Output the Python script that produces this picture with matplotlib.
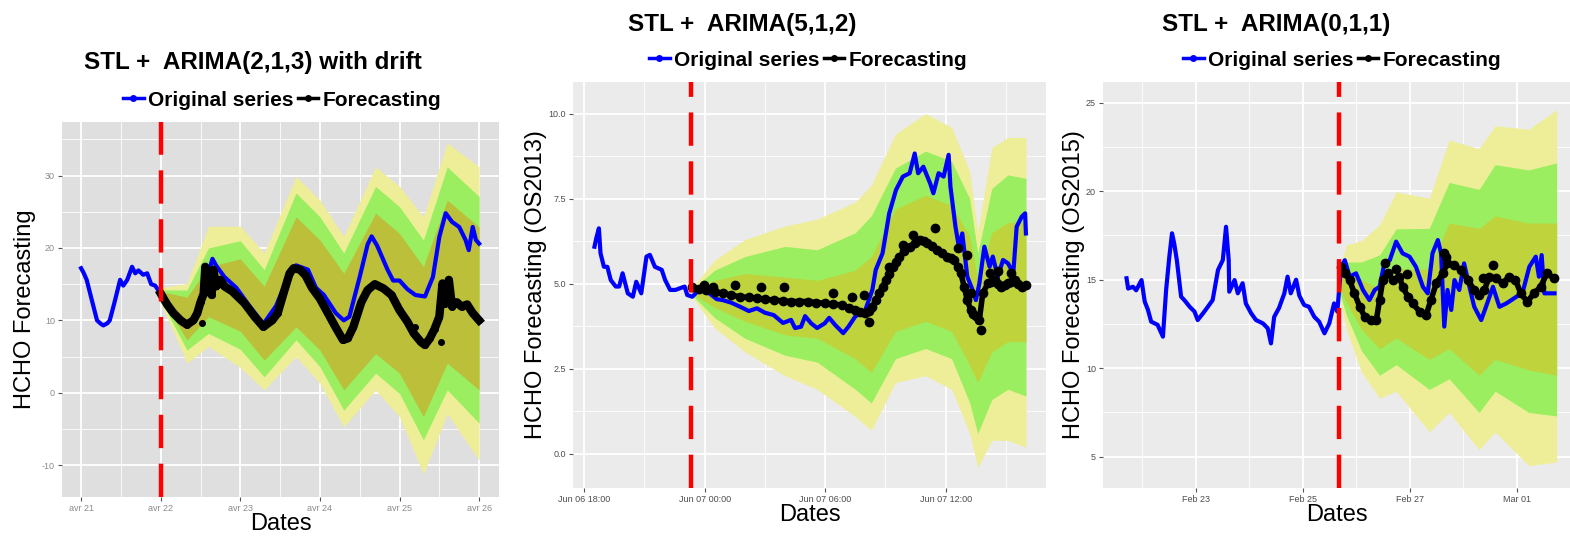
import matplotlib
matplotlib.use("Agg")
import matplotlib.pyplot as plt
from matplotlib.lines import Line2D

plt.rcParams['font.family'] = ['Liberation Sans', 'DejaVu Sans']

# ---------------- panel 1 : avr 21 .. avr 26 (x = days from avr 21)
p1_tick_labels = ["avr 21", "avr 22", "avr 23", "avr 24", "avr 25", "avr 26"]
p1_orig_x = [0, 0.03, 0.07, 0.13, 0.2, 0.25, 0.28, 0.33, 0.36, 0.42, 0.49, 0.53, 0.58, 0.64, 0.68,
             0.72, 0.78, 0.83, 0.88, 0.93, 1.0, 1.1, 1.25, 1.35, 1.45, 1.55, 1.65, 1.7, 1.8, 1.95,
             2.1, 2.29, 2.45, 2.6, 2.7, 2.85, 2.95, 3.05, 3.2, 3.3, 3.37, 3.5, 3.6, 3.65, 3.72,
             3.85, 3.92, 4.0, 4.1, 4.2, 4.32, 4.42, 4.5, 4.58, 4.66, 4.75, 4.83, 4.87, 4.92, 4.96, 5.0]
p1_orig_y = [17.2, 16.6, 15.6, 13.0, 10.0, 9.5, 9.3, 9.6, 10.0, 12.5, 15.6, 14.8, 15.6, 17.4, 16.5,
             16.9, 16.3, 16.5, 15.0, 14.8, 13.7, 12.0, 10.2, 9.5, 11.0, 14.5, 18.5, 17.5, 16.0, 14.5,
             12.2, 9.5, 12.0, 16.0, 17.6, 17.0, 14.5, 13.5, 11.0, 10.0, 10.5, 16.0, 20.5, 21.6, 20.3,
             17.0, 15.5, 15.5, 14.3, 13.5, 13.3, 16.0, 21.5, 24.8, 23.6, 22.9, 21.1, 19.7, 22.9, 21.1, 20.6]
p1_fc_x = [1.0, 1.08, 1.16, 1.25, 1.33, 1.41, 1.46, 1.5, 1.54, 1.56, 1.58, 1.62, 1.64, 1.66, 1.7,
           1.75, 1.8, 1.9, 2.05, 2.18, 2.29, 2.4, 2.47, 2.55, 2.62, 2.67, 2.75, 2.82, 2.9, 3.0,
           3.1, 3.2, 3.29, 3.35, 3.42, 3.52, 3.6, 3.69, 3.8, 3.9, 4.0, 4.1, 4.18, 4.27, 4.32,
           4.38, 4.44, 4.5, 4.54, 4.57, 4.62, 4.66, 4.72, 4.78, 4.85, 4.92, 5.0]
p1_fc_y = [13.7, 12.2, 11.0, 10.0, 9.4, 10.0, 11.0, 12.5, 13.7, 17.4, 14.0, 16.8, 13.5, 17.0, 14.7,
           15.6, 14.7, 14.0, 12.4, 10.5, 9.1, 10.0, 11.0, 14.0, 16.5, 17.2, 17.0, 16.2, 14.5, 13.0,
           11.0, 9.0, 7.3, 7.5, 9.1, 12.5, 14.2, 15.0, 14.4, 13.5, 11.4, 9.8, 8.2, 7.0, 6.6,
           7.5, 8.8, 10.5, 15.1, 12.3, 15.6, 11.9, 12.5, 11.9, 12.2, 11.0, 10.0]
p1_stray_x = [1.52, 4.52, 4.2]
p1_stray_y = [9.6, 7.0, 9.1]
p1_band_x = [1.0, 1.33, 1.6, 2.0, 2.3, 2.7, 3.0, 3.3, 3.7, 4.0, 4.3, 4.6, 5.0]
p1_yellow_hi = [14.5, 15.1, 23.0, 23.0, 19.3, 29.9, 26.6, 21.6, 31.2, 28.5, 24.3, 34.5, 31.2]
p1_green_hi = [14.2, 14.2, 20.0, 21.0, 17.0, 27.6, 24.3, 19.3, 28.5, 25.7, 21.1, 31.2, 27.1]
p1_olive_hi = [14.0, 13.2, 17.4, 18.5, 14.7, 24.3, 21.1, 16.5, 24.8, 22.0, 17.4, 26.6, 22.9]
p1_olive_lo = [13.2, 7.3, 10.5, 8.5, 4.5, 9.1, 5.9, 0.4, 5.4, 2.7, -3.3, 4.1, 0.4]
p1_green_lo = [12.8, 5.9, 8.2, 6.0, 2.2, 7.3, 3.6, -2.4, 2.7, -0.1, -6.5, 0.4, -4.2]
p1_yellow_lo = [12.5, 4.1, 6.4, 3.5, 0.4, 5.0, 1.3, -4.7, 0.4, -3.3, -11.2, -2.9, -9.3]
p1_split = 1.0

# ---------------- panel 2 : hours from Jun 06 00:00
p2_tick_labels = ["Jun 06 18:00", "Jun 07 00:00", "Jun 07 06:00", "Jun 07 12:00"]
p2_orig_x = [18.51, 18.6, 18.73, 18.81, 18.98, 19.15, 19.32, 19.57, 19.74, 19.91, 20.17, 20.42, 20.59,
             20.84, 21.1, 21.27, 21.52, 21.86, 22.03, 22.28, 22.54, 23.0, 23.13, 23.38, 23.72, 24.23,
             24.6, 24.9, 25.3, 25.75, 26.2, 26.6, 27.0, 27.44, 27.9, 28.3, 28.5, 28.8, 29.0, 29.3,
             29.6, 29.98, 30.2, 30.5, 30.9, 31.16, 31.5, 32.0, 32.35,
             32.52, 32.86, 33.19, 33.53, 33.87, 34.21, 34.46, 34.63, 34.89, 35.23, 35.39, 35.65, 35.9,
             36.15, 36.24, 36.49, 36.66, 36.83, 37.08, 37.34, 37.51, 37.68, 37.93, 38.19, 38.35, 38.6,
             38.86, 39.11, 39.37, 39.54, 39.79, 39.96, 40.0]
p2_orig_y = [6.09, 6.34, 6.63, 5.9, 5.5, 5.5, 5.11, 4.92, 4.92, 5.31, 4.72, 4.62, 5.06,
             4.72, 5.8, 5.85, 5.5, 5.41, 5.11, 4.82, 4.82, 4.92, 4.67, 4.62, 4.82, 4.72,
             4.55, 4.52, 4.45, 4.33, 4.2, 4.28, 4.15, 4.08, 3.85, 3.94, 3.7, 3.74, 4.05, 3.84,
             3.7, 3.84, 4.0, 3.79, 3.55, 3.74, 4.04, 4.23, 4.82,
             5.41, 5.9, 7.07, 7.76, 8.15, 8.25, 8.83, 8.25, 8.44, 7.95, 7.66, 8.25, 8.15,
             8.79, 7.86, 6.68, 6.09, 6.48, 5.21, 4.82, 4.52, 5.01, 6.09, 5.5, 5.8, 5.21,
             5.7, 5.6, 5.31, 6.68, 6.97, 7.07, 6.48]
p2_fc_x = [23.38, 23.7, 24.06, 24.5, 24.9, 25.3, 25.75, 26.2, 26.6, 27.0, 27.44, 27.9, 28.3, 28.7,
           29.13, 29.55, 29.98, 30.4, 30.83, 31.2, 31.5, 31.75, 32.0, 32.18, 32.35, 32.52, 32.69,
           32.86, 33.03, 33.2, 33.36, 33.53, 33.7, 33.95, 34.21, 34.46, 34.72, 34.9, 35.06, 35.3,
           35.57, 35.8, 36.08, 36.25, 36.42, 36.6, 36.76, 36.92, 37.08, 37.25, 37.38, 37.51, 37.68,
           37.85, 38.1, 38.27, 38.44, 38.6, 38.78, 38.95, 39.11, 39.28, 39.45, 39.62, 39.79, 40.0]
p2_fc_y = [4.9, 4.85, 4.82, 4.77, 4.72, 4.67, 4.62, 4.6, 4.57, 4.55, 4.52, 4.5, 4.48, 4.48,
           4.48, 4.45, 4.43, 4.4, 4.38, 4.3, 4.23, 4.18, 4.13, 4.2, 4.33, 4.52, 4.72,
           4.92, 5.11, 5.3, 5.5, 5.65, 5.8, 5.95, 6.09, 6.2, 6.29, 6.25, 6.19, 6.1,
           5.99, 5.9, 5.8, 5.75, 5.7, 5.5, 5.31, 4.92, 4.52, 4.23, 4.1, 4.04, 3.94,
           4.72, 5.01, 5.05, 5.11, 5.0, 4.92, 4.97, 5.01, 5.05, 5.11, 5.0, 4.92, 4.97]
p2_stray_x = [23.97, 24.4, 25.5, 26.8, 27.95, 30.4, 31.33, 31.93, 32.18, 33.2, 33.87, 34.38, 35.48,
              36.6, 37.08, 37.25, 37.76, 38.19, 38.6, 39.28]
p2_stray_y = [4.97, 4.92, 4.97, 4.9, 4.92, 4.74, 4.62, 4.68, 3.89, 5.5, 6.14, 6.43, 6.63,
              6.04, 5.85, 4.72, 3.64, 5.31, 5.39, 5.31]
p2_band_x = [23.4, 24.5, 26.0, 28.0, 29.6, 31.5, 32.3, 33.5, 35.0, 36.3, 37.2, 37.6, 38.3, 39.1, 40.0]
p2_yellow_hi = [4.9, 5.7, 6.3, 6.7, 6.9, 7.4, 7.9, 9.4, 10.0, 9.6, 8.3, 6.5, 9.0, 9.3, 9.3]
p2_green_hi = [4.85, 5.4, 5.8, 6.1, 6.0, 6.5, 7.0, 8.4, 8.9, 8.6, 7.5, 5.9, 7.8, 8.2, 8.1]
p2_olive_hi = [4.8, 5.1, 5.3, 5.2, 5.1, 5.4, 5.8, 7.2, 7.6, 7.3, 6.4, 5.1, 6.5, 6.8, 6.8]
p2_olive_lo = [4.7, 4.3, 3.9, 3.5, 3.4, 2.8, 2.4, 3.6, 3.9, 3.6, 2.6, 2.1, 3.0, 3.3, 3.3]
p2_green_lo = [4.65, 4.0, 3.4, 2.9, 2.7, 1.9, 1.5, 2.8, 3.1, 2.8, 1.5, 0.6, 1.6, 1.9, 1.7]
p2_yellow_lo = [4.6, 3.7, 3.0, 2.3, 1.9, 1.1, 0.7, 2.1, 2.3, 1.9, 0.6, -0.4, 0.4, 0.4, 0.2]
p2_split = 23.33

# ---------------- panel 3 : day of Feb 2015 (Mar 01 = 29)
p3_tick_labels = ["Feb 23", "Feb 25", "Feb 27", "Mar 01"]
p3_orig_x = [21.71, 21.74, 21.83, 21.89, 21.99, 22.05, 22.11, 22.17, 22.29, 22.39, 22.45, 22.51, 22.56,
             22.6, 22.65, 22.73, 22.79, 22.89, 22.98, 23.04, 23.14, 23.23, 23.32, 23.42, 23.51, 23.57,
             23.62, 23.63, 23.73, 23.79, 23.88, 23.94, 24.04, 24.13, 24.26, 24.35, 24.41, 24.47, 24.56,
             24.66, 24.72, 24.78, 24.88, 24.94, 25.03, 25.12, 25.22, 25.31, 25.41, 25.5, 25.59, 25.65,
             25.72, 25.79, 25.88, 26.0, 26.13, 26.25, 26.35, 26.44, 26.53, 26.63, 26.75, 26.87, 27.0,
             27.12, 27.25, 27.34, 27.43, 27.53, 27.59, 27.65, 27.71, 27.78, 27.84, 27.93, 28.02, 28.12,
             28.21, 28.34, 28.43, 28.56, 28.68, 28.81, 29.0, 29.11, 29.24, 29.36, 29.42, 29.47, 29.52, 29.71]
p3_orig_y = [15.08, 14.5, 14.6, 14.4, 14.98, 13.76, 13.3, 12.63, 12.45, 11.78, 14.42, 16.3, 17.62,
             17.06, 16.11, 14.04, 13.85, 13.47, 13.2, 12.72, 13.1, 13.47, 13.85, 15.55, 16.11, 17.99,
             16.1, 14.32, 14.98, 14.23, 14.8, 13.66, 13.1, 12.72, 12.53, 12.25, 11.4, 12.9, 13.4,
             14.23, 15.17, 14.23, 15.0, 14.1, 13.57, 13.47, 12.9, 12.63, 11.97, 12.53, 13.66, 13.2,
             15.73, 16.1, 15.17, 15.36, 14.42, 13.85, 14.42, 14.6, 15.92, 16.1, 17.15, 16.49, 16.3,
             15.73, 14.6, 14.23, 16.49, 17.24, 16.49, 12.35, 14.42, 13.29, 14.98, 14.42, 15.92, 14.6,
             13.47, 12.72, 13.47, 14.6, 13.47, 13.66, 14.04, 14.23, 15.73, 16.3, 15.17, 16.39, 14.23, 14.23]
p3_fc_x = [25.72, 25.79, 25.88, 25.97, 26.07, 26.16, 26.28, 26.38, 26.44, 26.5, 26.59, 26.69, 26.81,
           26.87, 26.97, 27.06, 27.19, 27.31, 27.4, 27.5, 27.62, 27.71, 27.84, 27.96, 28.09, 28.21,
           28.3, 28.4, 28.49, 28.62, 28.74, 28.86, 28.98, 29.08, 29.2, 29.33, 29.45, 29.57, 29.7]
p3_fc_y = [15.73, 15.36, 14.98, 14.23, 13.47, 12.91, 12.72, 12.72, 13.85, 14.98, 15.36, 14.98, 15.17,
           14.6, 14.04, 13.66, 13.19, 13.0, 13.85, 14.79, 15.36, 15.92, 15.83, 15.55, 14.98, 14.42,
           14.14, 14.42, 15.17, 15.08, 14.79, 15.17, 14.98, 14.23, 13.76, 14.23, 14.6, 15.36, 15.08]
p3_stray_x = [26.54, 26.74, 26.96, 27.64, 27.68, 28.56, 28.37]
p3_stray_y = [15.92, 15.58, 15.32, 16.52, 16.3, 15.83, 15.08]
p3_band_x = [25.68, 25.82, 26.1, 26.44, 26.75, 27.37, 27.74, 28.3, 28.6, 29.23, 29.75]
p3_yellow_hi = [15.5, 16.96, 17.2, 18.1, 19.96, 19.6, 22.9, 22.4, 23.7, 23.5, 24.6]
p3_green_hi = [15.3, 16.0, 16.0, 16.4, 17.87, 17.9, 20.5, 20.1, 21.5, 21.2, 21.6]
p3_olive_hi = [15.1, 15.4, 15.0, 14.5, 15.6, 15.6, 18.2, 17.9, 18.6, 18.2, 18.2]
p3_olive_lo = [14.6, 13.7, 12.2, 11.1, 11.7, 10.5, 11.1, 9.6, 10.5, 9.9, 9.6]
p3_green_lo = [14.4, 13.0, 11.0, 9.6, 10.2, 8.8, 9.4, 7.5, 8.7, 7.5, 7.3]
p3_yellow_lo = [14.2, 12.2, 9.8, 8.3, 8.7, 6.4, 7.5, 5.4, 6.4, 4.5, 4.7]
p3_split = 25.68

YELLOW = '#eeee98'
GREEN = '#9aee60'

fig = plt.figure(figsize=(15.7, 5.37), dpi=100)


def panel(rect, bg, olive, xlim, ylim, xmaj, xmin, ymaj, ymin, xlabels, ylabels, tickcol,
          bx, yhi, ghi, ohi, olo, glo, ylo, ox, oy, fx, fy, sx, sy, split, thin, ylabel, lpad):
    ax = fig.add_axes(rect)
    ax.set_facecolor(bg)
    for s in ax.spines.values():
        s.set_visible(False)
    ax.set_xlim(*xlim)
    ax.set_ylim(*ylim)
    ax.set_xticks(xmaj)
    ax.set_xticks(xmin, minor=True)
    ax.set_yticks(ymaj)
    ax.set_yticks(ymin, minor=True)
    ax.set_xticklabels(xlabels)
    ax.set_yticklabels(ylabels)
    ax.grid(True, which='major', color='white', lw=1.3)
    ax.grid(True, which='minor', color='white', lw=0.6)
    ax.set_axisbelow(True)
    ax.tick_params(which='major', length=3, width=0.8, color='#555555', labelsize=6.5,
                   labelcolor=tickcol, pad=2)
    ax.tick_params(which='minor', length=0)

    ax.fill_between(bx, ylo, yhi, color=YELLOW, lw=0, zorder=2)
    ax.fill_between(bx, glo, ghi, color=GREEN, lw=0, zorder=2)
    ax.fill_between(bx, olo, ohi, color=olive, lw=0, zorder=2)

    ax.plot(ox, oy, color='#0000ff', lw=3, zorder=3)
    if thin:
        ax.plot(fx, fy, color='black', lw=6, marker='o', ms=4, zorder=4)
        ax.plot(sx, sy, 'o', color='black', ms=4, zorder=4)
    else:
        ax.plot(fx, fy, color='black', lw=4, marker='o', ms=6, zorder=4)
        ax.plot(sx, sy, 'o', color='black', ms=6, zorder=4)
    ax.axvline(split, color='#ff0000', lw=3.2, dashes=(7.5, 3.5), zorder=5)

    ax.set_ylabel(ylabel, fontsize=17, labelpad=lpad)
    ax.set_xlabel("Dates", fontsize=17, labelpad=0)
    return ax


ax1 = panel([62 / 1570, 40 / 537, 437 / 1570, 375 / 537], '#dfdfdf', '#bcbf3a',
            (-0.24, 5.25), (-14.4, 37.4), [0, 1, 2, 3, 4, 5], [0.5, 1.5, 2.5, 3.5, 4.5],
            [-10, 0, 10, 20, 30], [-5, 5, 15, 25, 35], p1_tick_labels,
            ["-10", "0", "10", "20", "30"], '#8a8a8a',
            p1_band_x, p1_yellow_hi, p1_green_hi, p1_olive_hi, p1_olive_lo, p1_green_lo, p1_yellow_lo,
            p1_orig_x, p1_orig_y, p1_fc_x, p1_fc_y, p1_stray_x, p1_stray_y, p1_split, True,
            "HCHO Forecasting", 4)

ax2 = panel([573 / 1570, 49 / 537, 473 / 1570, 406 / 537], '#ebebeb', '#bfd33c',
            (17.44, 41.0), (-1.0, 10.93), [18, 24, 30, 36], [21, 27, 33, 39],
            [0, 2.5, 5, 7.5, 10], [1.25, 3.75, 6.25, 8.75], p2_tick_labels,
            ["0.0", "2.5", "5.0", "7.5", "10.0"], '#4d4d4d',
            p2_band_x, p2_yellow_hi, p2_green_hi, p2_olive_hi, p2_olive_lo, p2_green_lo, p2_yellow_lo,
            p2_orig_x, p2_orig_y, p2_fc_x, p2_fc_y, p2_stray_x, p2_stray_y, p2_split, False,
            "HCHO Forecasting (OS2013)", 1)

ax3 = panel([1103 / 1570, 49 / 537, 467 / 1570, 406 / 537], '#ebebeb', '#bfd33c',
            (21.27, 30.0), (3.23, 26.17), [23, 25, 27, 29], [22, 24, 26, 28],
            [5, 10, 15, 20, 25], [7.5, 12.5, 17.5, 22.5], p3_tick_labels,
            ["5", "10", "15", "20", "25"], '#4d4d4d',
            p3_band_x, p3_yellow_hi, p3_green_hi, p3_olive_hi, p3_olive_lo, p3_green_lo, p3_yellow_lo,
            p3_orig_x, p3_orig_y, p3_fc_x, p3_fc_y, p3_stray_x, p3_stray_y, p3_split, False,
            "HCHO Forecasting (OS2015)", 1)

titles = ["STL +  ARIMA(2,1,3) with drift", "STL +  ARIMA(5,1,2)", "STL +  ARIMA(0,1,1)"]
title_pos = [(253, 63), (742, 24), (1276, 24)]
legend_pos = [(282, 100), (808, 60), (1342, 60)]
for t, (tx, ty), (lx, ly) in zip(titles, title_pos, legend_pos):
    fig.text(tx / 1570, 1 - ty / 537, t, fontsize=17.5, fontweight='bold', ha='center', va='center')
    handles = [Line2D([], [], color='#0000ff', lw=2.5, marker='o', ms=4),
               Line2D([], [], color='black', lw=2.5, marker='o', ms=4)]
    fig.legend(handles, ["Original series", "Forecasting"], loc='center',
               bbox_to_anchor=(lx / 1570, 1 - ly / 537), ncol=2, frameon=False,
               prop={'weight': 'bold', 'size': 15}, handlelength=1.0, handletextpad=0.2,
               columnspacing=0.2, borderpad=0)

fig.savefig("out.png", dpi=100)
